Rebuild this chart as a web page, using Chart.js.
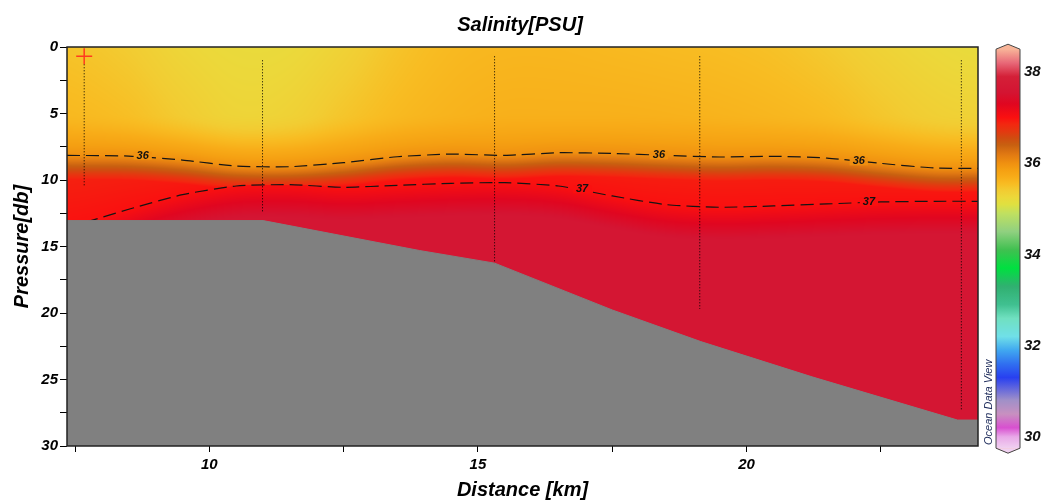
<!DOCTYPE html>
<html>
<head>
<meta charset="utf-8">
<script src="https://cdn.jsdelivr.net/npm/chart.js@4.4.1/dist/chart.umd.min.js"></script>
<style>
html, body { margin: 0; padding: 0; background: #fff; }
</style>
</head>
<body>
<canvas id="sectionChart" width="1046" height="502"></canvas>
<script>
// sea floor along the section: distance [km], pressure [db]
var bottomKm = [7.35, 11.0, 13.91, 15.31, 17.5, 19.15, 21.22, 23.93, 24.31];
var bottomDb = [13.05, 13.05, 15.3, 16.25, 19.77, 22.15, 24.8, 28.05, 28.05];

// stations (dotted casts)
var stationKm = [7.67, 10.99, 15.31, 19.13, 24.0];
var stationTopDb = [1.3, 1.0, 0.7, 0.7, 1.0];
var stationMaxDb = [10.5, 12.4, 16.2, 19.7, 27.3];

// isohalines and near-surface salinity read along the section
var isoKm   = [7.35, 8.5, 9.5, 10.5, 11.5, 12.5, 13.5, 14.5, 15.5, 16.5, 17.5, 18.5, 19.5, 20.5, 21.5, 22.5, 23.5, 24.31];
var iso36Db = [8.15, 8.2, 8.5, 8.95, 9.0, 8.7, 8.25, 8.05, 8.15, 7.95, 8.0, 8.15, 8.27, 8.22, 8.35, 8.75, 9.1, 9.12];
var iso37Db = [13.6, 12.2, 11.1, 10.45, 10.35, 10.55, 10.4, 10.25, 10.2, 10.45, 11.2, 11.85, 12.05, 11.95, 11.8, 11.65, 11.6, 11.6];
var surfSal = [35.48, 35.4, 35.28, 35.22, 35.23, 35.33, 35.48, 35.57, 35.6, 35.6, 35.58, 35.56, 35.54, 35.5, 35.42, 35.32, 35.24, 35.2];
var sal5db  = [35.58, 35.52, 35.4, 35.3, 35.33, 35.46, 35.57, 35.63, 35.66, 35.66, 35.66, 35.65, 35.63, 35.6, 35.55, 35.45, 35.36, 35.33];
var deepSal = [37.55, 37.55, 37.58, 37.6, 37.6, 37.6, 37.6, 37.6, 37.6, 37.6, 37.6, 37.6, 37.6, 37.6, 37.6, 37.6, 37.6, 37.6];

// contour label positions [km, db]
var label36 = [[8.76, 8.17], [18.37, 8.15], [22.09, 8.6]];
var label37 = [[16.94, 10.7], [22.28, 11.65]];

// selected station marker
var markKm = 7.67, markDb = 0.7;

// colour bar
var cbarTicks = [38, 36, 34, 32, 30];

var cmapStops = [
  [29.75, '#f0d0f0'], [30.0, '#e8a8e8'], [30.2, '#d850d0'], [30.5, '#c890c0'], [30.8, '#a090c8'],
  [31.0, '#7070d8'], [31.3, '#2840f0'], [31.6, '#3070f0'], [31.9, '#40a8f0'], [32.2, '#70e0e8'],
  [32.6, '#70e0c0'], [32.9, '#40c090'], [33.3, '#30b070'], [33.7, '#00e040'], [34.1, '#40c050'],
  [34.5, '#90d080'], [34.9, '#c0e060'], [35.1, '#e0e040'], [35.25, '#ecd83a'], [35.4, '#f2cc32'],
  [35.55, '#f8bc22'], [35.7, '#f8ac18'], [35.85, '#f5a012'], [36.0, '#f09010'], [36.2, '#e07812'],
  [36.4, '#c86010'], [36.55, '#d04c10'], [36.7, '#e43810'], [36.85, '#f22810'], [37.0, '#fa1010'],
  [37.3, '#e00620'], [37.55, '#d41432'], [37.9, '#d42038'], [38.2, '#e86878'], [38.5, '#f8b498']
];
var cmapRgb = cmapStops.map(function (s) {
  var h = s[1];
  return [s[0], parseInt(h.substr(1, 2), 16), parseInt(h.substr(3, 2), 16), parseInt(h.substr(5, 2), 16)];
});

function colorFor(v) {
  if (v <= cmapRgb[0][0]) return cmapRgb[0].slice(1);
  for (var i = 1; i < cmapRgb.length; i++) {
    if (v <= cmapRgb[i][0]) {
      var a = cmapRgb[i - 1], b = cmapRgb[i];
      var t = (v - a[0]) / (b[0] - a[0]);
      return [a[1] + t * (b[1] - a[1]), a[2] + t * (b[2] - a[2]), a[3] + t * (b[3] - a[3])];
    }
  }
  return cmapRgb[cmapRgb.length - 1].slice(1);
}

// Catmull-Rom along the section so the field has no seams between columns
function interp(xs, ys, x) {
  var n = xs.length;
  if (x <= xs[0]) return ys[0];
  if (x >= xs[n - 1]) return ys[n - 1];
  var i = 1;
  while (x > xs[i]) i++;
  var t = (x - xs[i - 1]) / (xs[i] - xs[i - 1]);
  var p0 = ys[Math.max(i - 2, 0)], p1 = ys[i - 1], p2 = ys[i], p3 = ys[Math.min(i + 1, n - 1)];
  var t2 = t * t, t3 = t2 * t;
  return 0.5 * (2 * p1 + (p2 - p0) * t + (2 * p0 - 5 * p1 + 4 * p2 - p3) * t2 + (3 * p1 - p0 - 3 * p2 + p3) * t3);
}

function salinity(km, db) {
  var s0 = interp(isoKm, surfSal, km), s5 = interp(isoKm, sal5db, km);
  var p36 = interp(isoKm, iso36Db, km), p37 = interp(isoKm, iso37Db, km);
  var sd = interp(isoKm, deepSal, km);
  if (db <= 5) return s0 + (s5 - s0) * db / 5;
  if (db <= p36) return s5 + (36 - s5) * Math.pow((db - 5) / (p36 - 5), 1.5);
  if (db <= p37) {
    var t = (db - p36) / (p37 - p36);
    return 36 + 0.85 * Math.min(1, (db - p36) / 1.8) + 0.15 * t;
  }
  return 37 + (sd - 37) * Math.min(1, (db - p37) / 2.5);
}

function rgbStr(c) {
  return 'rgb(' + Math.round(c[0]) + ',' + Math.round(c[1]) + ',' + Math.round(c[2]) + ')';
}

var FONT = '"Liberation Sans", Arial, sans-serif';
var tickFont = { family: FONT, size: 15, weight: 'bold', style: 'italic' };
var titleFont = { family: FONT, size: 20, weight: 'bold', style: 'italic' };

function pts(xs, ys) {
  return xs.map(function (x, i) { return { x: x, y: ys[i] }; });
}

var datasets = [
  {
    data: [{ x: markKm, y: markDb }], showLine: false,
    pointStyle: 'cross', pointRadius: 8, borderColor: '#ff3b1f', borderWidth: 1.5
  },
  {
    data: pts(bottomKm, bottomDb), fill: 'start', backgroundColor: '#808080',
    borderColor: '#808080', borderWidth: 1, pointRadius: 0, tension: 0
  },
  {
    data: pts(isoKm, iso36Db), borderColor: '#151515', borderWidth: 1.2,
    borderDash: [13, 6], pointRadius: 0, tension: 0.2, fill: false
  },
  {
    data: pts(isoKm, iso37Db), borderColor: '#151515', borderWidth: 1.2,
    borderDash: [13, 6], pointRadius: 0, tension: 0.2, fill: false
  }
];
stationKm.forEach(function (km, i) {
  datasets.push({
    data: [{ x: km, y: stationTopDb[i] }, { x: km, y: stationMaxDb[i] }],
    borderColor: '#000', borderWidth: 1, borderDash: [1, 2], pointRadius: 0, fill: false
  });
});

var sectionPlugin = {
  id: 'section',
  beforeDatasetsDraw: function (chart) {
    var area = chart.chartArea, xs = chart.scales.x, ys = chart.scales.y;
    var w = Math.round(area.right - area.left), h = Math.round(area.bottom - area.top);
    var off = document.createElement('canvas');
    off.width = w; off.height = h;
    var octx = off.getContext('2d');
    var img = octx.createImageData(w, h);
    for (var i = 0; i < w; i++) {
      var km = xs.getValueForPixel(area.left + i + 0.5);
      for (var j = 0; j < h; j++) {
        var db = ys.getValueForPixel(area.top + j + 0.5);
        var c = colorFor(salinity(km, db));
        var k = (j * w + i) * 4;
        img.data[k] = c[0]; img.data[k + 1] = c[1]; img.data[k + 2] = c[2]; img.data[k + 3] = 255;
      }
    }
    octx.putImageData(img, 0, 0);
    chart.ctx.drawImage(off, area.left, area.top);
  },
  afterDatasetsDraw: function (chart) {
    var ctx = chart.ctx, xs = chart.scales.x, ys = chart.scales.y, area = chart.chartArea;
    ctx.save();
    ctx.font = 'italic bold 11px ' + FONT;
    ctx.textAlign = 'center';
    ctx.textBaseline = 'middle';
    [[label36, 36], [label37, 37]].forEach(function (grp) {
      grp[0].forEach(function (p) {
        var x = xs.getPixelForValue(p[0]), y = ys.getPixelForValue(p[1]);
        var tw = ctx.measureText(String(grp[1])).width;
        ctx.fillStyle = rgbStr(colorFor(salinity(p[0], p[1])));
        ctx.fillRect(x - tw / 2 - 3, y - 4, tw + 6, 8);
        ctx.fillStyle = '#111';
        ctx.fillText(String(grp[1]), x, y);
      });
    });
    // frame
    ctx.strokeStyle = '#222';
    ctx.lineWidth = 1.5;
    ctx.strokeRect(area.left, area.top, area.right - area.left, area.bottom - area.top);
    ctx.restore();
  },
  afterDraw: function (chart) {
    var ctx = chart.ctx;
    ctx.save();
    // title
    ctx.fillStyle = '#000';
    ctx.font = 'italic bold 20px ' + FONT;
    ctx.textAlign = 'center';
    ctx.textBaseline = 'alphabetic';
    ctx.fillText('Salinity[PSU]', 520, 31);

    // colour bar
    var yOf = function (v) { return 72 + (38 - v) * 45.6; };
    var vTop = cmapStops[cmapStops.length - 1][0], vBot = cmapStops[0][0];
    var y0 = yOf(vTop), y1 = yOf(vBot);
    var xl = 996, xr = 1020, xm = 1008;
    var grad = ctx.createLinearGradient(0, y0, 0, y1);
    cmapStops.forEach(function (s) {
      grad.addColorStop((yOf(s[0]) - y0) / (y1 - y0), s[1]);
    });
    ctx.beginPath();
    ctx.moveTo(xm, y0 - 5);
    ctx.lineTo(xr, y0);
    ctx.lineTo(xr, y1);
    ctx.lineTo(xm, y1 + 5);
    ctx.lineTo(xl, y1);
    ctx.lineTo(xl, y0);
    ctx.closePath();
    ctx.fillStyle = cmapStops[cmapStops.length - 1][1];
    ctx.fill();
    ctx.save();
    ctx.clip();
    ctx.fillStyle = grad;
    ctx.fillRect(xl, y0, xr - xl, y1 - y0);
    ctx.fillStyle = cmapStops[0][1];
    ctx.fillRect(xl, y1, xr - xl, 6);
    ctx.restore();
    ctx.strokeStyle = '#444';
    ctx.lineWidth = 1;
    ctx.stroke();

    ctx.fillStyle = '#111';
    ctx.font = 'italic bold 15px ' + FONT;
    ctx.textAlign = 'left';
    ctx.textBaseline = 'middle';
    cbarTicks.forEach(function (v) {
      ctx.fillText(String(v), 1024, yOf(v));
    });

    // watermark
    ctx.translate(989, 445);
    ctx.rotate(-Math.PI / 2);
    ctx.font = 'italic 11px ' + FONT;
    ctx.fillStyle = '#1c2a5a';
    ctx.textAlign = 'left';
    ctx.fillText('Ocean Data View', 0, 0);
    ctx.restore();
  }
};

var ctx = document.getElementById('sectionChart').getContext('2d');
var chart = new Chart(ctx, {
  type: 'line',
  data: { datasets: datasets },
  options: {
    animation: false,
    responsive: false,
    layout: { padding: { top: 47, right: 68, left: 0, bottom: 0 } },
    plugins: { legend: { display: false }, tooltip: { enabled: false } },
    scales: {
      x: {
        type: 'linear', min: 7.35, max: 24.31,
        afterFit: function (s) { s.height = 56; },
        ticks: {
          stepSize: 2.5, includeBounds: false, autoSkip: false, maxRotation: 0,
          padding: 4, font: tickFont, color: '#000',
          callback: function (v) { return v % 5 === 0 ? String(v) : ''; }
        },
        grid: { drawOnChartArea: false, tickLength: 6, color: '#000' },
        border: { display: false },
        title: { display: true, text: 'Distance [km]', font: titleFont, color: '#000', padding: { top: 0, bottom: 0 } }
      },
      y: {
        type: 'linear', reverse: true, min: 0, max: 30,
        afterFit: function (s) { s.width = 67; },
        ticks: {
          stepSize: 2.5, includeBounds: false, autoSkip: false,
          padding: 2, font: tickFont, color: '#000',
          callback: function (v) { return v % 5 === 0 ? String(v) : ''; }
        },
        grid: { drawOnChartArea: false, tickLength: 7, color: '#000' },
        border: { display: false },
        title: { display: true, text: 'Pressure[db]', font: titleFont, color: '#000', padding: { top: 10, bottom: 0 } }
      }
    }
  },
  plugins: [sectionPlugin]
});
</script>
</body>
</html>
